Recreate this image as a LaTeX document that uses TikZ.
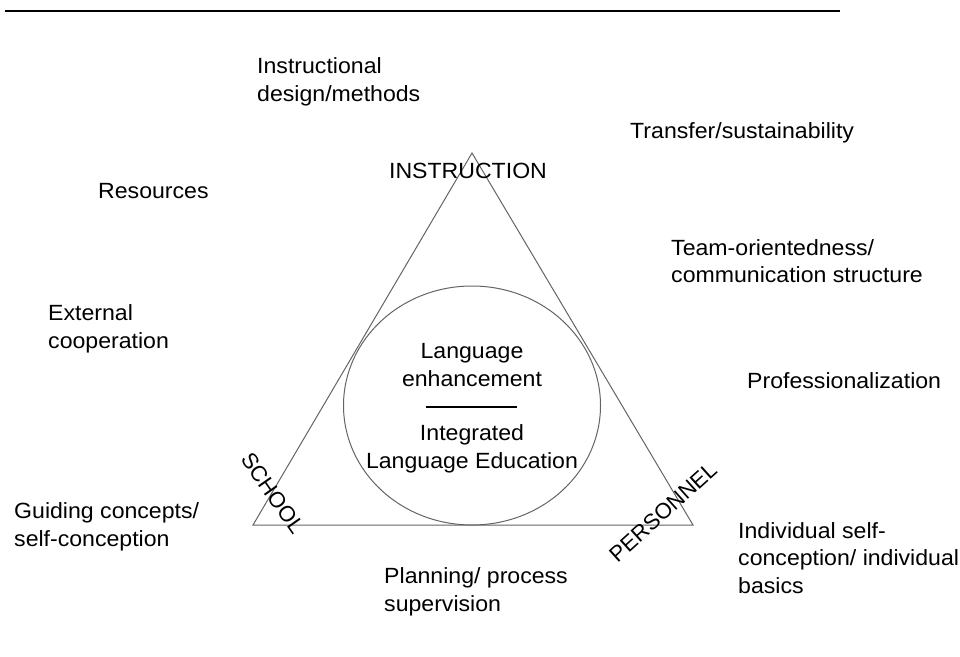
\documentclass[tikz,border=0pt]{standalone}
\usepackage{fontspec}
\setmainfont{Liberation Sans}
\usetikzlibrary{shapes.geometric}
\definecolor{edgegray}{RGB}{100,100,100}
\tikzset{
  lbl/.style={anchor=west, align=left, inner sep=0pt, xscale=1.05, font=\fontsize{22}{27.7}\selectfont},
  ctr/.style={anchor=center, align=center, inner sep=0pt, xscale=1.05, font=\fontsize{22}{27.7}\selectfont},
  rot/.style={anchor=center, inner sep=0pt, font=\fontsize{22}{27.7}\selectfont},
  edge/.style={draw=edgegray, line width=1pt},
}
\begin{document}
\begin{tikzpicture}[x=1pt,y=-1pt]
\useasboundingbox (0,0) rectangle (960,656);
% top rule
\coordinate (r1) at (5,11);
\coordinate (r2) at (840,11);
\draw[line width=2.5pt] (r1) -- (r2);
% triangle
\coordinate (apex) at (472,153);
\coordinate (bl) at (253,525);
\coordinate (br) at (693,525);
\draw[edge] (apex) -- (bl) -- (br) -- cycle;
% ellipse
\node[edge, ellipse, minimum width=257pt, minimum height=239pt, inner sep=0pt] (circ) at (472,405.5) {};
% centre texts
\node[ctr] (enh) at (472,365) {Language\\enhancement};
\node[ctr] (ile) at (472,449) {Integrated\\Language Education};
\coordinate (sepL) at (426,407);
\coordinate (sepR) at (517,407);
\draw[line width=1.5pt] (sepL) -- (sepR);
% corner labels
\node[ctr] (instr) at (468,171) {INSTRUCTION};
\node[rot, rotate=-55] (school) at (273,493) {SCHOOL};
\node[rot, rotate=42] (pers) at (663,512) {PERSONNEL};
% outer labels
\node[lbl] (idm) at (257,82) {Instructional\\design/methods};
\node[lbl] (tra) at (630,133) {Transfer/sustainability};
\node[lbl] (res) at (98,191) {Resources};
\node[lbl] (team) at (671,261) {Team-orientedness/\\communication structure};
\node[lbl] (ext) at (48,329) {External\\cooperation};
\node[lbl] (prof) at (747,381) {Professionalization};
\node[lbl] (guide) at (14,527) {Guiding concepts/\\self-conception};
\node[lbl] (indiv) at (738,558) {Individual self-\\conception/ individual\\basics};
\node[lbl] (plan) at (384,592) {Planning/ process\\supervision};
\end{tikzpicture}
\end{document}
